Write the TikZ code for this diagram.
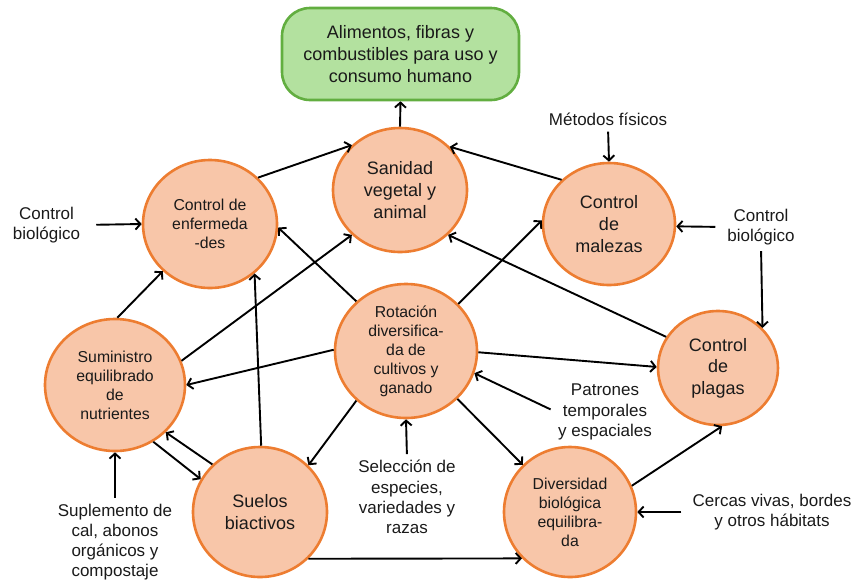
\documentclass[tikz,border=0pt]{standalone}
\usepackage{fontspec}
\setmainfont{Liberation Sans}
\usetikzlibrary{shapes.geometric,arrows.meta}
\definecolor{cfill}{HTML}{F8C6A9}
\definecolor{cline}{HTML}{ED7D31}
\definecolor{gfill}{HTML}{B3E19F}
\definecolor{gline}{HTML}{62AE40}
\definecolor{txt}{HTML}{1A1A1A}
\begin{document}
\begin{tikzpicture}[x=1pt,y=-1pt,
  circ/.style={ellipse, draw=cline, fill=cfill, line width=2.6pt, inner sep=0pt, align=center, text=txt},
  big/.style={font=\fontsize{18}{21.6}\selectfont},
  small/.style={font=\fontsize{15.8}{19}\selectfont},
  goalbox/.style={rectangle, rounded corners=28pt, draw=gline, fill=gfill, line width=2.6pt,
    minimum width=237pt, minimum height=92pt, align=center, text=txt, font=\fontsize{18}{21.6}\selectfont},
  lab/.style={align=center, text=txt, font=\fontsize{17}{20.2}\selectfont, inner sep=2pt},
  arr/.style={-{Straight Barb[length=5pt,width=11pt]}, line width=1.9pt, black}]
\useasboundingbox (0,0) rectangle (853,584);

\node[goalbox] (top) at (400.5,54) {Alimentos, fibras y\\combustibles para uso y\\consumo humano};

\node[circ,big,minimum width=134pt,minimum height=124pt] (san) at (400,190) {Sanidad\\vegetal y\\animal};
\node[circ,small,minimum width=134pt,minimum height=128pt] (enf) at (210,224) {Control de\\enfermeda\\-des};
\node[circ,big,minimum width=132pt,minimum height=122pt] (mal) at (609,224) {Control\\de\\malezas};
\node[circ,big,minimum width=120pt,minimum height=114pt] (pla) at (718,368) {Control\\de\\plagas};
\node[circ,small,minimum width=140pt,minimum height=132pt] (sum) at (115,385) {Suministro\\equilibrado\\de\\nutrientes};
\node[circ,big,minimum width=134pt,minimum height=130pt] (sue) at (260,512) {Suelos\\biactivos};
\node[circ,small,minimum width=142pt,minimum height=134pt] (rot) at (406,351) {Rotación\\diversifica-\\da de\\cultivos y\\ganado};
\node[circ,small,minimum width=132pt,minimum height=130pt] (div) at (570,512) {Diversidad\\biológica\\equilibra-\\da};

\node[lab] (cbl) at (46.5,225) {Control\\biológico};
\node[lab] (met) at (608,119) {Métodos físicos};
\node[lab] (cbr) at (761,227) {Control\\biológico};
\node[lab] (sup) at (115,542) {Suplemento de\\cal, abonos\\orgánicos y\\compostaje};
\node[lab] (sel) at (407,497) {Selección de\\especies,\\variedades y\\razas};
\node[lab] (pat) at (605,412) {Patrones\\temporales\\y espaciales};
\node[lab] (cer) at (772,512) {Cercas vivas, bordes\\y otros hábitats};

\draw[arr] (san.north) -- (top.south);
\draw[arr] (enf.44) -- (san.137.5);
\draw[arr] (mal.137.6) -- (san.41);
\draw[arr] (sum.20) -- (san.223);
\draw[arr] (rot.135.6) -- (enf.357);
\draw[arr] (sue.89) -- (enf.312);
\draw[arr] (sum.88) -- (enf.225);
\draw[arr, shorten <=14pt] (cbl.east) -- (enf.west);
\draw[arr] (rot.179) -- (sum.0);
\draw[arr] (sum.304) -- (sue.151);
\draw[arr] (sue.135) -- (sum.317);
\draw[arr, shorten <=4pt] (sup.north) -- (sum.south);
\draw[arr] (rot.225) -- (sue.44);
\draw[arr, shorten <=4pt] (sel.north) -- (rot.south);
\draw[arr] (rot.317) -- (div.135);
\draw[arr, shorten <=6pt] (pat.west) -- (rot.342);
\draw[arr] (rot.359) -- (pla.179);
\draw[arr] (rot.42) -- (mal.177);
\draw[arr] (pla.149) -- (san.317);
\draw[arr] (sue.316) -- (div.224);
\draw[arr] (div.23) -- (pla.274);
\draw[arr, shorten <=9pt] (cer.west) -- (div.east);
\draw[arr, shorten <=4pt] (met.south) -- (mal.north);
\draw[arr, shorten <=10pt] (cbr.west) -- (mal.358);
\draw[arr, shorten <=4pt] (cbr.south) -- (pla.42);
\end{tikzpicture}
\end{document}
